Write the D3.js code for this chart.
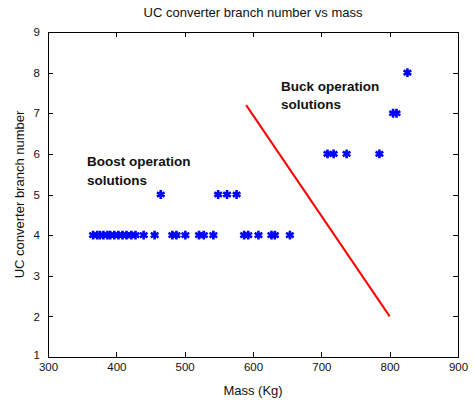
<!DOCTYPE html>
<html>
<head>
<meta charset="utf-8">
<script src="https://cdn.jsdelivr.net/npm/d3@7"></script>
<style>
  html, body { margin: 0; padding: 0; background: #fff; }
  svg { display: block; }
  text { font-family: "Liberation Sans", Arial, sans-serif; fill: #111; }
</style>
</head>
<body>
<svg id="chart" width="474" height="403"></svg>
<script>
// Branch count (y) and total mass in kg (x) of each converter design
const boostMass4 = [366, 372, 376, 381, 387, 391, 397, 403, 409, 415, 422, 428, 440, 456,
                    482, 488, 501, 521, 528, 542, 587, 593, 608, 627, 632, 654];
const boostMass5 = [465, 549, 562, 576];
const buckMass6 = [709, 718, 737, 785];
const buckMass7 = [805, 810];
const buckMass8 = [826];

// Boundary separating boost from buck solutions
const boundary = [[590, 7.2], [800, 2]];

const xTicks = [300, 400, 500, 600, 700, 800, 900];
const yTicks = [1, 2, 3, 4, 5, 6, 7, 8, 9];

const titleText = "UC converter branch number vs mass";
const xLabel = "Mass (Kg)";
const yLabel = "UC converter branch number";
const buckNote = ["Buck operation", "solutions"];
const boostNote = ["Boost operation", "solutions"];

const points = [
  ...boostMass4.map(m => [m, 4]),
  ...boostMass5.map(m => [m, 5]),
  ...buckMass6.map(m => [m, 6]),
  ...buckMass7.map(m => [m, 7]),
  ...buckMass8.map(m => [m, 8])
];

const svg = d3.select("#chart");
const plotL = 48, plotR = 458, plotT = 32, plotB = 357;

const x = d3.scaleLinear().domain([300, 900]).range([plotL, plotR]);
const y = d3.scaleLinear().domain([1, 9]).range([plotB, plotT]);

const tickLen = 5;
const axisFont = "11.5px";

// Box frame
svg.append("rect")
  .attr("x", plotL).attr("y", plotT)
  .attr("width", plotR - plotL).attr("height", plotB - plotT)
  .attr("fill", "none").attr("stroke", "#000").attr("stroke-width", 1)
  .attr("shape-rendering", "crispEdges");

// Bottom and left axes with inward ticks
const xAxis = svg.append("g").attr("transform", `translate(0,${plotB})`)
  .call(d3.axisBottom(x).tickValues(xTicks).tickSizeInner(-tickLen).tickSizeOuter(0).tickPadding(tickLen + 2));
const yAxis = svg.append("g").attr("transform", `translate(${plotL},0)`)
  .call(d3.axisLeft(y).tickValues(yTicks).tickSizeInner(-tickLen).tickSizeOuter(0).tickPadding(tickLen + 3));
// Top and right mirrored ticks, no labels
const xTop = svg.append("g").attr("transform", `translate(0,${plotT})`)
  .call(d3.axisTop(x).tickValues(xTicks).tickSizeInner(-tickLen).tickSizeOuter(0).tickFormat(""));
const yRight = svg.append("g").attr("transform", `translate(${plotR},0)`)
  .call(d3.axisRight(y).tickValues(yTicks).tickSizeInner(-tickLen).tickSizeOuter(0).tickFormat(""));

[xAxis, yAxis, xTop, yRight].forEach(g => {
  g.select(".domain").remove();
  g.selectAll("line").attr("stroke", "#000").attr("shape-rendering", "crispEdges");
  g.selectAll("text").style("font-family", "'Liberation Sans', Arial, sans-serif")
    .style("font-size", axisFont).attr("fill", "#111");
});
xAxis.selectAll("text").attr("dy", "0.6em");
// Lift the lowest y label slightly so it clears the first x label
yAxis.selectAll("text").filter(d => d === 1).attr("dy", "0.1em");

// Boundary line
svg.append("line")
  .attr("x1", x(boundary[0][0])).attr("y1", y(boundary[0][1]))
  .attr("x2", x(boundary[1][0])).attr("y2", y(boundary[1][1]))
  .attr("stroke", "#ff0000").attr("stroke-width", 2);

// Star markers
const star = d3.symbol().type(d3.symbolAsterisk).size(55);
svg.append("g").selectAll("path")
  .data(points)
  .join("path")
  .attr("transform", d => `translate(${x(d[0])},${y(d[1])})`)
  .attr("d", star)
  .attr("fill", "none")
  .attr("stroke", "#0000ff")
  .attr("stroke-width", 2.6);

// Region annotations
function note(lines, mx, ny) {
  const t = svg.append("text")
    .attr("x", x(mx)).attr("y", y(ny))
    .style("font-size", "13.5px").style("font-weight", "bold").attr("fill", "#222");
  lines.forEach((s, i) => t.append("tspan").attr("x", x(mx)).attr("dy", i === 0 ? 0 : 18.5).text(s));
}
note(buckNote, 641, 7.55);
note(boostNote, 357, 5.7);

// Titles
svg.append("text").attr("x", (plotL + plotR) / 2).attr("y", 17)
  .attr("text-anchor", "middle").style("font-size", "13px").text(titleText);
svg.append("text").attr("x", (plotL + plotR) / 2).attr("y", 395)
  .attr("text-anchor", "middle").style("font-size", "13px").text(xLabel);
svg.append("text")
  .attr("transform", `translate(24,${(plotT + plotB) / 2}) rotate(-90)`)
  .attr("text-anchor", "middle").style("font-size", "13px").text(yLabel);
</script>
</body>
</html>
